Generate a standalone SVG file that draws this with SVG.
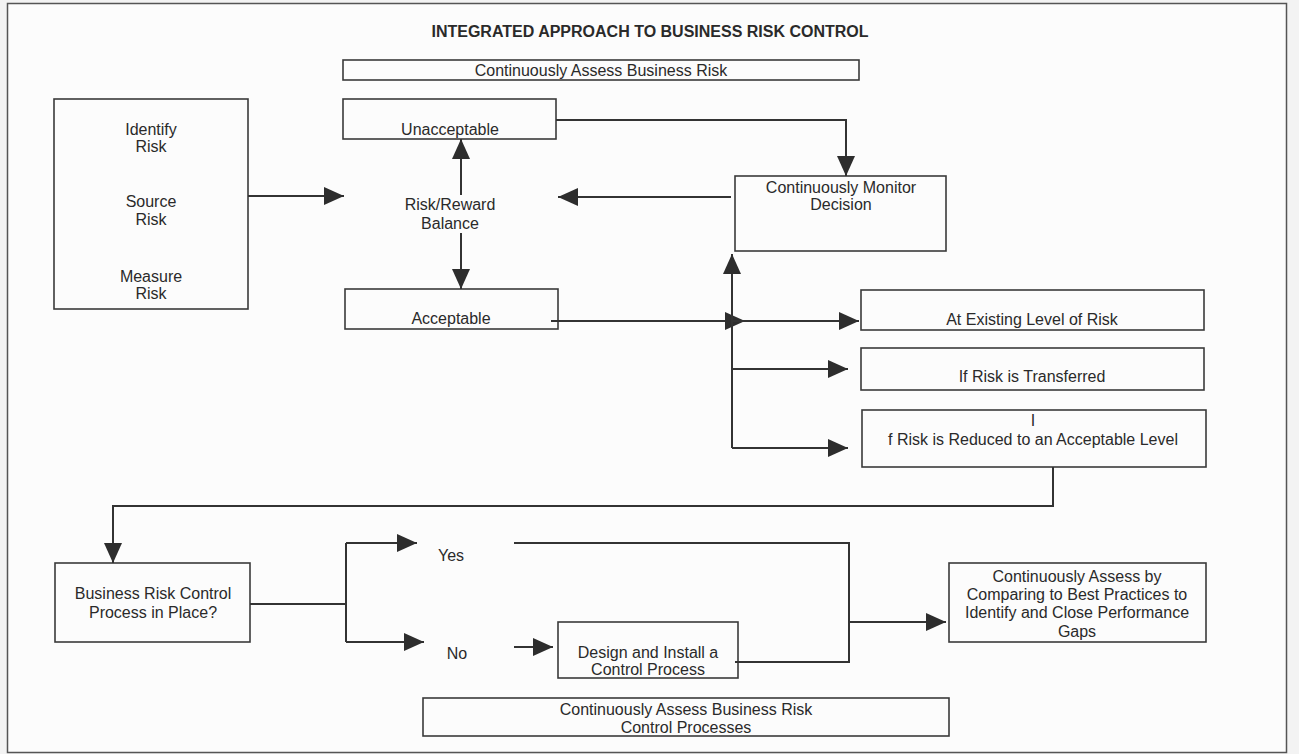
<svg xmlns="http://www.w3.org/2000/svg" width="1299" height="754" viewBox="0 0 1299 754">
<style>
.box{fill:none;stroke:#3a3a3a;stroke-width:1.6}
.t{font-family:"Liberation Sans",Arial,sans-serif;font-size:16px;fill:#2a2a2a;text-anchor:middle}
.title{font-family:"Liberation Sans",Arial,sans-serif;font-size:16px;font-weight:bold;fill:#2a2a2a;text-anchor:middle}
.c{fill:none;stroke:#333;stroke-width:2}
.a{marker-end:url(#ah)}
</style>
<defs>
<marker id="ah" viewBox="0 0 20 18" refX="20" refY="9" markerWidth="20" markerHeight="18" markerUnits="userSpaceOnUse" orient="auto">
<path d="M0,0 L20,9 L0,18 Z" fill="#2d2d2d"/>
</marker>
</defs>
<rect x="0" y="0" width="1299" height="754" fill="#f3f3f3"/>
<rect x="7.5" y="3.5" width="1279" height="749" fill="#fcfcfc" stroke="#555" stroke-width="1.5"/>
<text class="title" x="650" y="37">INTEGRATED APPROACH TO BUSINESS RISK CONTROL</text>

<g id="assess-top"><rect class="box" x="343" y="60" width="516" height="20"/><text class="t" x="601" y="76">Continuously Assess Business Risk</text></g>
<g id="identify"><rect class="box" x="54" y="99" width="194" height="210"/>
<text class="t" x="151" y="135">Identify</text><text class="t" x="151" y="152">Risk</text>
<text class="t" x="151" y="207">Source</text><text class="t" x="151" y="225">Risk</text>
<text class="t" x="151" y="282">Measure</text><text class="t" x="151" y="299">Risk</text></g>
<g id="unacceptable"><rect class="box" x="343" y="99" width="213" height="40"/><text class="t" x="450" y="135">Unacceptable</text></g>
<g id="balance"><text class="t" x="450" y="210">Risk/Reward</text><text class="t" x="450" y="229">Balance</text></g>
<g id="acceptable"><rect class="box" x="345" y="289" width="213" height="40"/><text class="t" x="451" y="324">Acceptable</text></g>
<g id="monitor"><rect class="box" x="735" y="176" width="211" height="75"/><text class="t" x="841" y="193">Continuously Monitor</text><text class="t" x="841" y="210">Decision</text></g>
<g id="existing"><rect class="box" x="861" y="290" width="343" height="40"/><text class="t" x="1032" y="325">At Existing Level of Risk</text></g>
<g id="transferred"><rect class="box" x="861" y="348" width="343" height="42"/><text class="t" x="1032" y="382">If Risk is Transferred</text></g>
<g id="reduced"><rect class="box" x="862" y="410" width="344" height="57"/><text class="t" x="1033" y="426">I</text><text class="t" x="1033" y="445">f Risk is Reduced to an Acceptable Level</text></g>
<g id="process-in-place"><rect class="box" x="55" y="563" width="195" height="79"/><text class="t" x="153" y="599">Business Risk Control</text><text class="t" x="153" y="618">Process in Place?</text></g>
<g id="yes"><text class="t" x="451" y="561">Yes</text></g>
<g id="no"><text class="t" x="457" y="659">No</text></g>
<g id="design"><rect class="box" x="558" y="622" width="180" height="56"/><text class="t" x="648" y="658">Design and Install a</text><text class="t" x="648" y="675">Control Process</text></g>
<g id="assess-bottom"><rect class="box" x="423" y="698" width="526" height="38"/><text class="t" x="686" y="715">Continuously Assess Business Risk</text><text class="t" x="686" y="733">Control Processes</text></g>
<g id="best-practices"><rect class="box" x="949" y="563" width="257" height="79"/>
<text class="t" x="1077" y="582">Continuously Assess by</text><text class="t" x="1077" y="600">Comparing to Best Practices to</text>
<text class="t" x="1077" y="618">Identify and Close Performance</text><text class="t" x="1077" y="637">Gaps</text></g>

<g id="connectors">
<path class="c a" d="M248,196 H344"/>
<path class="c a" d="M461,195 V139"/>
<path class="c a" d="M461,233 V289"/>
<path class="c a" d="M556,120 H846 V176"/>
<path class="c a" d="M731,197 H558"/>
<path class="c a" d="M551,321 H745"/>
<path class="c a" d="M732,321 H859"/>
<path class="c a" d="M732,448 V254"/>
<path class="c a" d="M732,369 H848"/>
<path class="c a" d="M732,448 H848"/>
<path class="c a" d="M1053,467 V506 H113 V563"/>
<path class="c" d="M250,604 H346 M346,543 V642"/>
<path class="c a" d="M346,543 H417"/>
<path class="c a" d="M346,642 H424"/>
<path class="c" d="M514,543 H849 V662 H735"/>
<path class="c a" d="M849,622 H946"/>
<path class="c a" d="M514,647 H553"/>
</g>
</svg>
